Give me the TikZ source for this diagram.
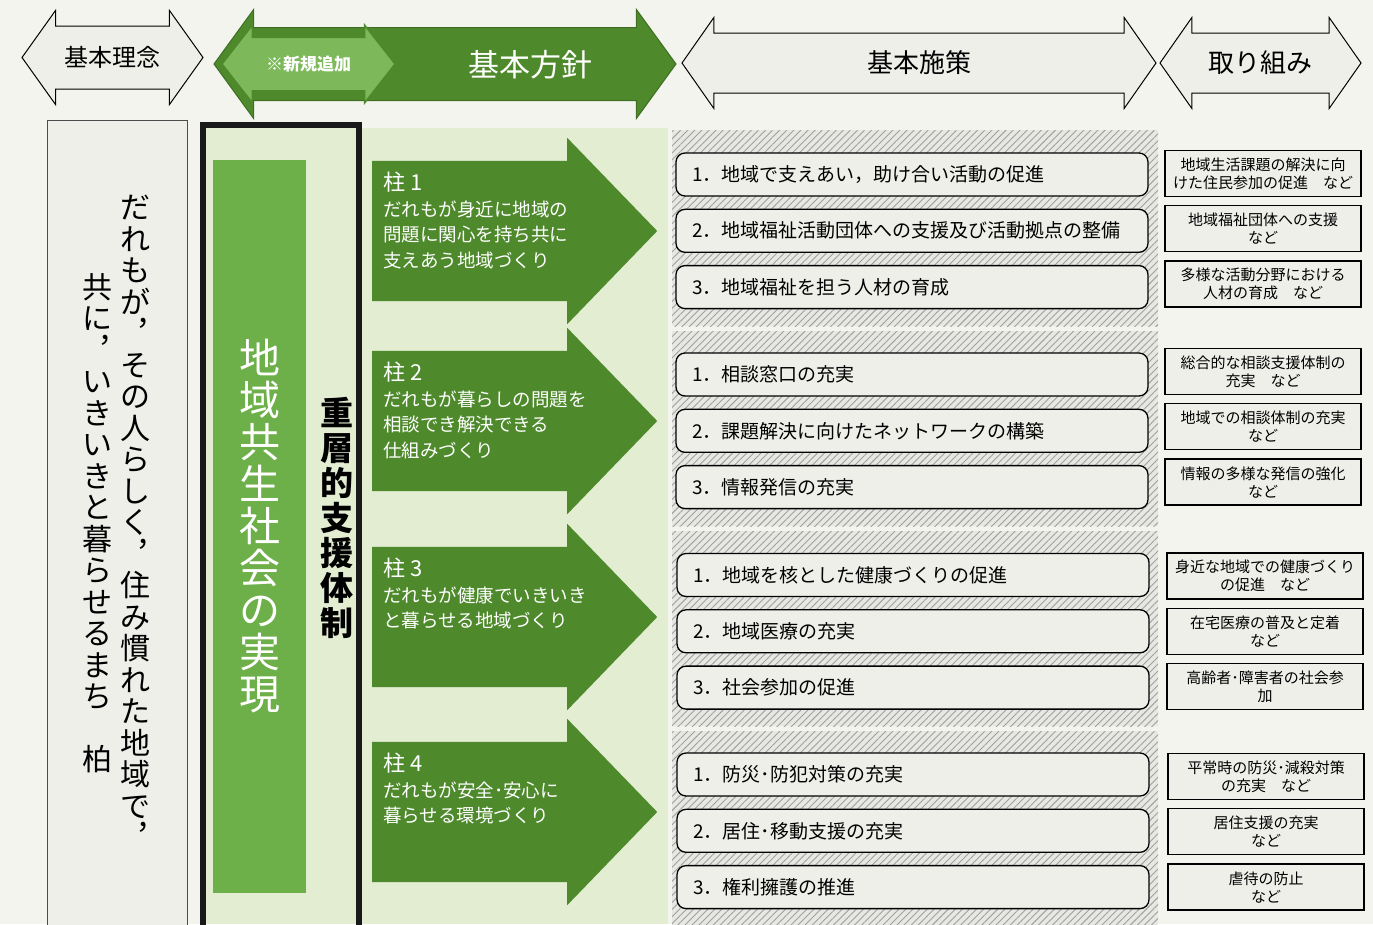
\documentclass[tikz,border=0pt]{standalone}
\usepackage{fontspec}
\setmainfont{Noto Sans CJK JP}
\usetikzlibrary{shapes.arrows,patterns.meta,positioning}

\definecolor{paper}{HTML}{F4F4EF}
\definecolor{darkgreen}{HTML}{4E8A2C}
\definecolor{midgreen}{HTML}{6DAF48}
\definecolor{lightgreen}{HTML}{7DB95B}
\definecolor{palegreen}{HTML}{E3EDD2}
\definecolor{boxgray}{HTML}{EFEFEA}
\definecolor{bandgray}{HTML}{E7E7E3}
\definecolor{hatchgray}{HTML}{A0A09D}

% vertical (tategaki) text: one character per line
\newcommand\tatebody[1]{#1\tatenext}
\def\tatenext#1{\ifx\relax#1\else\\#1\expandafter\tatenext\fi}
\newcommand\tate[1]{\tatebody#1\relax}

\tikzset{%
	headarrow/.style = {draw=black, line width=1pt, fill=boxgray, double arrow, inner xsep=0pt, inner ysep=29.5pt, minimum width=90pt, double arrow head extend=15.5pt, double arrow tip angle=110},
	headlabel/.style = {inner sep=0pt, font=\fontsize{26}{26}\selectfont},
	pillar/.style    = {single arrow, fill=darkgreen, inner xsep=0pt, inner ysep=70pt, minimum width=186pt, minimum height=285pt, single arrow head extend=23pt, single arrow tip angle=92, anchor=tail},
	pillartext/.style= {text=white, align=left, anchor=north west, inner sep=0pt, font=\fontsize{18.5}{25.5}\selectfont},
	band/.style      = {preaction={fill=bandgray}, pattern={Lines[angle=45,distance=5pt,line width=0.9pt]}, pattern color=hatchgray},
	policy/.style    = {draw, line width=1.3pt, rounded corners=9pt, fill=boxgray, minimum width=472pt, minimum height=43pt, text width=440pt, inner xsep=16pt, align=left, font=\fontsize{19}{22}\selectfont},
	action/.style    = {draw, line width=1.3pt, fill=boxgray, minimum width=196pt, minimum height=46pt, inner sep=0pt, align=center, font=\fontsize{15}{18}\selectfont},
	tatetext/.style  = {align=center, inner sep=0pt, font=\fontsize{30}{31.5}\selectfont},
}

\begin{document}
\begin{tikzpicture}[x=1pt,y=-1pt]
	\fill[paper] (0,0) rectangle (1373,924);
	\useasboundingbox (0,0) rectangle (1373,924);
	% header row
	\node[headarrow, inner ysep=31pt, minimum height=181pt, minimum width=93pt, double arrow tip angle=109] (rinen) at (112.5,57.5) {};
	\node[headlabel, font=\fontsize{24}{24}\selectfont] (rinenlabel) at (rinen) {基本理念};
	\node[headarrow, draw=darkgreen!80!black, fill=darkgreen, inner ysep=36pt, minimum height=462pt, minimum width=108pt, double arrow head extend=18pt, double arrow tip angle=108] (hoshin) at (445,64) {};
	\node[headarrow, draw=darkgreen, line width=1.5pt, fill=lightgreen, inner ysep=26pt, minimum height=173pt, minimum width=76pt, double arrow head extend=12pt, double arrow tip angle=104] (shinki) at (308.5,64) {};
	\node[headlabel, text=white, font=\bfseries\fontsize{17}{17}\selectfont] (shinkilabel) at (shinki) {※新規追加};
	\node[headlabel, text=white, font=\fontsize{31}{31}\selectfont] (hoshinlabel) at (530,65) {基本方針};
	\node[headarrow, minimum height=474pt] (shisaku) at (919,63) {};
	\node[headlabel] (shisakulabel) at (shisaku) {基本施策};
	\node[headarrow, minimum height=201pt] (torikumi) at (1260.5,63) {};
	\node[headlabel] (torikumilabel) at (torikumi) {取り組み};

	% basic idea
	\node[draw=black!70, line width=1pt, fill=boxgray, minimum width=140pt, minimum height=820pt] (rinenbox) at (117,530) {};
	\node[tatetext] (ideal1) at (135,522) {\tate{だれもが︐その人らしく︐住み慣れた地域で︐}};
	\node[tatetext] (ideal2) at (97,523) {\tate{共に︐いきいきと暮らせるまち　柏}};

	% basic policy
	\fill[palegreen] (200,128) rectangle (668,924);
	\node[draw=black!90, line width=6pt, minimum width=156pt, minimum height=810pt, inner sep=0pt] (support) at (281,530) {};
	\node[fill=midgreen, minimum width=93pt, minimum height=733pt, inner sep=0pt, text=white, align=center, font=\fontsize{41}{42}\selectfont] (goal) at (259.5,526.5) {\tate{地域共生社会の実現}};
	\node[tatetext, font=\bfseries\fontsize{33}{35}\selectfont] (jusou) at (337,518) {\tate{重層的支援体制}};

	\node[pillar] (pillar1) at (372,231) {};
	\node[pillar] (pillar2) at (372,421) {};
	\node[pillar] (pillar3) at (372,617) {};
	\node[pillar] (pillar4) at (372,812) {};
	\node[pillartext] (p1text) at (383,172) {{\fontsize{22}{25.5}\selectfont 柱 1}\\だれもが身近に地域の\\問題に関心を持ち共に\\支えあう地域づくり};
	\node[pillartext] (p2text) at (383,362) {{\fontsize{22}{25.5}\selectfont 柱 2}\\だれもが暮らしの問題を\\相談でき解決できる\\仕組みづくり};
	\node[pillartext] (p3text) at (383,558) {{\fontsize{22}{25.5}\selectfont 柱 3}\\だれもが健康でいきいき\\と暮らせる地域づくり};
	\node[pillartext] (p4text) at (383,753) {{\fontsize{22}{25.5}\selectfont 柱 4}\\だれもが安全･安心に\\暮らせる環境づくり};

	% basic measures
	\path[band] (672,130) rectangle (1158,326);
	\path[band] (672,331) rectangle (1158,526);
	\path[band] (672,531) rectangle (1158,726);
	\path[band] (672,731) rectangle (1158,930);

	\node[policy] (s11) at (912,174.5) {1．地域で支えあい，助け合い活動の促進};
	\node[policy, below=12pt of s11] (s12) {2．地域福祉活動団体への支援及び活動拠点の整備};
	\node[policy, below=12pt of s12] (s13) {3．地域福祉を担う人材の育成};
	\node[policy] (s21) at (912,374.5) {1．相談窓口の充実};
	\node[policy, below=12pt of s21] (s22) {2．課題解決に向けたネットワークの構築};
	\node[policy, below=12pt of s22] (s23) {3．情報発信の充実};
	\node[policy] (s31) at (913,575) {1．地域を核とした健康づくりの促進};
	\node[policy, below=12pt of s31] (s32) {2．地域医療の充実};
	\node[policy, below=12pt of s32] (s33) {3．社会参加の促進};
	\node[policy] (s41) at (913,774.5) {1．防災･防犯対策の充実};
	\node[policy, below=12pt of s41] (s42) {2．居住･移動支援の充実};
	\node[policy, below=12pt of s42] (s43) {3．権利擁護の推進};

	% actions
	\node[action] (a11) at (1263,173.5) {地域生活課題の解決に向\\けた住民参加の促進　など};
	\node[action, below=8pt of a11] (a12) {地域福祉団体への支援\\など};
	\node[action, below=8pt of a12] (a13) {多様な活動分野における\\人材の育成　など};
	\node[action] (a21) at (1263,371.5) {総合的な相談支援体制の\\充実　など};
	\node[action, below=8pt of a21] (a22) {地域での相談体制の充実\\など};
	\node[action, below=8pt of a22] (a23) {情報の多様な発信の強化\\など};
	\node[action] (a31) at (1265,576) {身近な地域での健康づくり\\の促進　など};
	\node[action, below=8pt of a31] (a32) {在宅医療の普及と定着\\など};
	\node[action, below=8pt of a32] (a33) {高齢者･障害者の社会参\\加};
	\node[action] (a41) at (1266,776.5) {平常時の防災･減殺対策\\の充実　など};
	\node[action, below=8pt of a41] (a42) {居住支援の充実\\など};
	\node[action, below=8pt of a42] (a43) {虐待の防止\\など};
\end{tikzpicture}
\end{document}
